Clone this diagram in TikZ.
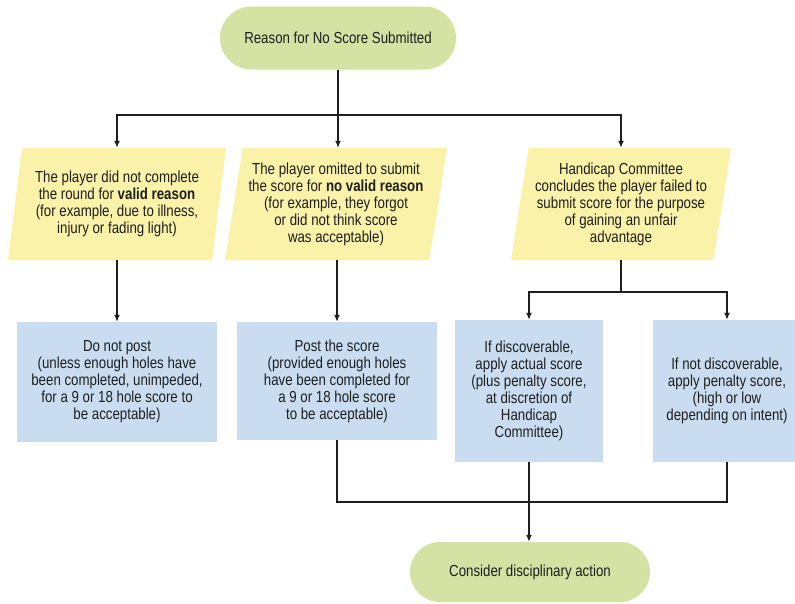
\documentclass[tikz,border=0pt]{standalone}
\usepackage{fontspec}
\setmainfont{Liberation Sans}[FakeStretch=0.83]
\usetikzlibrary{shapes.geometric,shapes.misc,arrows.meta}

\definecolor{termgreen}{RGB}{212,227,163}
\definecolor{paleyellow}{RGB}{249,242,168}
\definecolor{paleblue}{RGB}{202,221,240}
\definecolor{inkgray}{RGB}{30,30,30}

\tikzset{
    terminal/.style={rounded rectangle, fill=termgreen, inner sep=0pt, text=inkgray},
    reasonbox/.style={trapezium, trapezium left angle=78, trapezium right angle=102,
        trapezium stretches body, fill=paleyellow, minimum height=112pt,
        minimum width=218pt, inner sep=0pt, align=center, text=inkgray},
    outcome/.style={rectangle, fill=paleblue, inner sep=0pt, align=center, text=inkgray},
    link/.style={draw=inkgray, line width=1.3pt},
    arrow/.style={link, -{Latex[length=7pt,width=6pt]}}
}

\begin{document}
\begin{tikzpicture}[x=1pt, y=-1pt, font=\fontsize{16}{17}\selectfont]
    % Parameters
    \def\rowA{204}   % middle of the reason row
    \def\rowB{391}   % middle of the narrow outcome boxes

    \useasboundingbox (0,0) rectangle (795,603);

    % Start
    \node[terminal, minimum width=236pt, minimum height=63pt] (start) at (338,38)
        {Reason for No Score Submitted};

    % Reasons
    \node[reasonbox] (valid) at (117,\rowA)
        {The player did not complete\\ the round for \textbf{valid reason}\\
         (for example, due to illness,\\ injury or fading light)};
    \node[reasonbox, minimum width=222pt] (novalid) at (336,\rowA)
        {The player omitted to submit\\ the score for \textbf{no valid reason}\\
         (for example, they forgot\\ or did not think score\\ was acceptable)};
    \node[reasonbox, minimum width=220pt] (unfair) at (621,\rowA)
        {Handicap Committee\\ concludes the player failed to\\
         submit score for the purpose\\ of gaining an unfair\\ advantage};

    % Outcomes
    \node[outcome, minimum width=200pt, minimum height=120pt] (nopost) at (117,382)
        {Do not post\\ (unless enough holes have\\ been completed, unimpeded,\\
         for a 9 or 18 hole score to\\ be acceptable)};
    \node[outcome, minimum width=200pt, minimum height=118pt] (post) at (337,381)
        {Post the score\\ (provided enough holes\\ have been completed for\\
         a 9 or 18 hole score\\ to be acceptable)};
    \node[outcome, minimum width=148pt, minimum height=142pt] (actual) at (529,\rowB)
        {If discoverable,\\ apply actual score\\ (plus penalty score,\\
         at discretion of\\ Handicap\\ Committee)};
    \node[outcome, minimum width=148pt, minimum height=142pt] (penalty) at (727,\rowB)
        {If not discoverable,\\ apply penalty score,\\ (high or low\\ depending on intent)};

    % End
    \node[terminal, minimum width=240pt, minimum height=60pt] (stop) at (530,572)
        {Consider disciplinary action};

    % Connectors
    \coordinate (split) at (338,115);
    \coordinate (fork) at (621,292);
    \coordinate (merge) at (727,502);

    \draw[link] (start) -- (split);
    \draw[arrow] (split) -| (valid.north);
    \draw[arrow] (split) -- (split |- novalid.north);
    \draw[arrow] (split) -| (unfair.north);

    \draw[arrow] (valid.south -| nopost) -- (nopost);
    \draw[arrow] (novalid.south -| post) -- (post);
    \draw[link] (unfair.south -| fork) -- (fork);
    \draw[arrow] (fork) -| (actual.north);
    \draw[arrow] (fork) -| (penalty.north);

    \draw[link] (post) |- (merge) -- (penalty);
    \draw[arrow] (actual) -- (actual |- stop.north);
\end{tikzpicture}
\end{document}
